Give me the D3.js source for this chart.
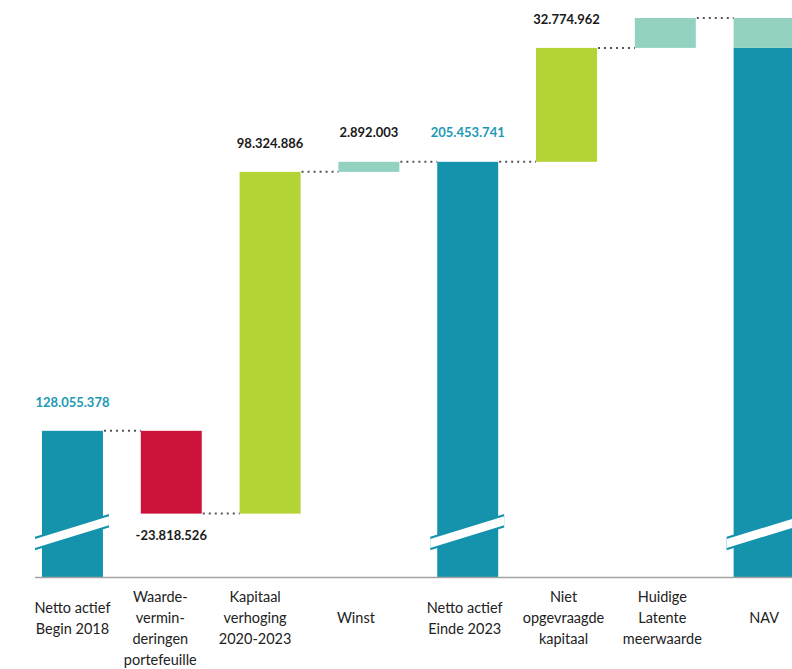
<!DOCTYPE html>
<html>
<head>
<meta charset="utf-8">
<script src="https://cdn.jsdelivr.net/npm/d3@7"></script>
<style>
  html, body { margin: 0; padding: 0; background: #fff; }
  svg { display: block; }
</style>
</head>
<body>
<svg id="chart" width="792" height="669"></svg>
<script>
// ---------- DATA ----------
const categories = [
  "Netto actief Begin 2018",
  "Waardeverminderingen portefeuille",
  "Kapitaal verhoging 2020-2023",
  "Winst",
  "Netto actief Einde 2023",
  "Niet opgevraagde kapitaal",
  "Huidige Latente meerwaarde",
  "NAV"
];
const categoryLines = [
  ["Netto actief", "Begin 2018"],
  ["Waarde-", "vermin-", "deringen", "portefeuille"],
  ["Kapitaal", "verhoging", "2020-2023"],
  ["Winst"],
  ["Netto actief", "Einde 2023"],
  ["Niet", "opgevraagde", "kapitaal"],
  ["Huidige", "Latente", "meerwaarde"],
  ["NAV"]
];
// step type: "total" = running total bar, "delta" = change
const stepTypes = ["total", "delta", "delta", "delta", "total", "delta", "delta", "total"];
const stepValues = [128055378, -23818526, 98324886, 2892003, null, 32774962, 8600000, null];
const kinds = ["total", "loss", "capital", "profit", "total", "capital", "latent", "total"];
const valueLabels = ["128.055.378", "-23.818.526", "98.324.886", "2.892.003", "205.453.741", "32.774.962", "", ""];
const axisBreakValue = 86000000;   // broken axis: bottom of visible scale

// ---------- STYLE / LAYOUT ----------
const colors = {
  total: "#1593ad",
  loss: "#cc1339",
  capital: "#b4d334",
  profit: "#93d2c1",
  latent: "#93d2c1"
};
const labelTeal = "#1c99b4";
const labelDx = [0, -11, -15, -13, -3, -3, -3, 0];
const W = 792, H = 669;
const baseY = 577, topY = 18;

const svg = d3.select("#chart");

// compute waterfall segments
let running = 0;
const bars = categories.map((c, i) => {
  let start, end;
  if (stepTypes[i] === "total") {
    if (i === 0) running = stepValues[0];
    start = axisBreakValue; end = running;
  } else {
    start = running; running += stepValues[i]; end = running;
  }
  return { cat: c, i, start, end, kind: kinds[i], label: valueLabels[i], after: running };
});

const x = d3.scaleBand()
  .domain(categories)
  .range([42, 794.6])
  .paddingInner(0.383)
  .paddingOuter(0);

const y = d3.scaleLinear()
  .domain([axisBreakValue, bars[bars.length - 1].end])
  .range([baseY, topY]);

const bw = x.bandwidth();

// bars
const g = svg.append("g");
bars.forEach((b, i) => {
  const x0 = x(b.cat);
  if (i === bars.length - 1) {
    // NAV: stacked - teal up to value before latent gain, mint for latent gain
    const beforeLatent = bars[i - 1].start;
    g.append("rect").attr("x", x0).attr("width", bw)
      .attr("y", y(beforeLatent)).attr("height", y(axisBreakValue) - y(beforeLatent))
      .attr("fill", colors.total);
    g.append("rect").attr("x", x0).attr("width", bw)
      .attr("y", y(b.end)).attr("height", y(beforeLatent) - y(b.end))
      .attr("fill", colors.latent);
  } else {
    const lo = Math.min(b.start, b.end), hi = Math.max(b.start, b.end);
    g.append("rect").attr("x", x0).attr("width", bw)
      .attr("y", y(hi)).attr("height", y(lo) - y(hi))
      .attr("fill", colors[b.kind]);
  }
});

// connectors (dotted)
for (let i = 0; i < bars.length - 1; i++) {
  const lvl = bars[i].after;
  g.append("line")
    .attr("x1", x(bars[i].cat) + bw + 1)
    .attr("x2", x(bars[i + 1].cat))
    .attr("y1", y(lvl)).attr("y2", y(lvl))
    .attr("stroke", "#555")
    .attr("stroke-width", 2)
    .attr("stroke-dasharray", "2,4");
}

// axis break marks on total bars
const slope = -0.307;
function breakMark(x0) {
  const xl = x0 - 7, xr = x0 + bw + 6;
  const cl = baseY - 33.5, cr = cl + slope * (xr - xl);
  const poly = (h) => [[xl, cl - h], [xr, cr - h], [xr, cr + h], [xl, cl + h]];
  g.append("polygon").attr("points", poly(6.8).map(p => p.join(",")).join(" "))
    .attr("fill", colors.total);
  g.append("polygon").attr("points", poly(4.5).map(p => p.join(",")).join(" "))
    .attr("fill", "#fff");
}
bars.filter(b => b.kind === "total").forEach(b => breakMark(x(b.cat)));

// x axis line
svg.append("line")
  .attr("x1", 35).attr("x2", W)
  .attr("y1", baseY + 0.5).attr("y2", baseY + 0.5)
  .attr("stroke", "#a3a3a3").attr("stroke-width", 1.5);

// value labels
bars.forEach(b => {
  if (!b.label) return;
  const cx = x(b.cat) + bw / 2;
  const neg = b.end < b.start;
  const ty = neg ? y(b.end) + 22 : y(b.end) - 29;
  svg.append("text")
    .attr("x", cx).attr("y", ty).attr("dy", "0.36em")
    .attr("text-anchor", "middle")
    .attr("font-family", "Lato, sans-serif")
    .attr("font-weight", 700)
    .attr("font-size", 13)
    .attr("fill", b.kind === "total" ? labelTeal : "#1a1a1a")
    .text(b.label);
});

// category labels
categoryLines.forEach((lines, i) => {
  const cx = x(categories[i]) + bw / 2 + labelDx[i];
  const n = Math.min(lines.length, 3);
  const y0 = 618 - (n - 1) * 21 / 2;
  const t = svg.append("text")
    .attr("text-anchor", "middle")
    .attr("font-family", "Lato, sans-serif")
    .attr("font-size", 14.5)
    .attr("fill", "#222");
  lines.forEach((ln, k) => {
    t.append("tspan").attr("x", cx).attr("y", y0 + k * 21).attr("dy", "0.35em").text(ln);
  });
});
</script>
</body>
</html>
